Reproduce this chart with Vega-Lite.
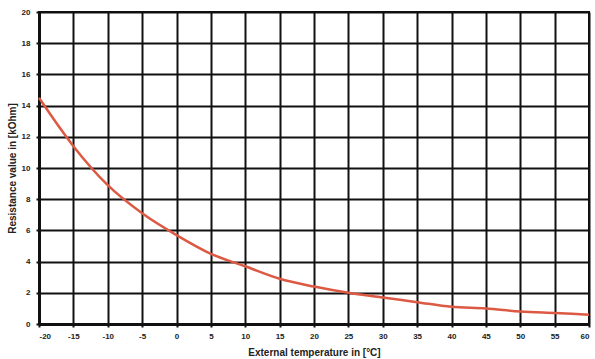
{
  "$schema": "https://vega.github.io/schema/vega-lite/v6.json",
  "autosize": "none",
  "width": 550,
  "height": 312,
  "padding": {"left": 39, "top": 12, "right": 6, "bottom": 35},
  "background": "white",
  "config": {
    "view": {"stroke": "#111", "strokeWidth": 2},
    "axis": {
      "labelFont": "Liberation Sans",
      "labelFontWeight": "bold",
      "labelFontSize": 8,
      "labelColor": "#222",
      "titleFont": "Liberation Sans",
      "titleFontWeight": "bold",
      "titleFontSize": 10,
      "titleColor": "#222",
      "gridColor": "#111",
      "gridWidth": 2,
      "gridOpacity": 1,
      "domainColor": "#111",
      "domainWidth": 3,
      "tickColor": "#111",
      "tickWidth": 2,
      "tickSize": 3
    }
  },
  "data": {
    "values": [
      {"t": -20, "r": 14.5},
      {"t": -15, "r": 11.4},
      {"t": -10, "r": 8.9},
      {"t": -5, "r": 7.1},
      {"t": 0, "r": 5.7},
      {"t": 5, "r": 4.5},
      {"t": 10, "r": 3.7},
      {"t": 15, "r": 2.9},
      {"t": 20, "r": 2.4},
      {"t": 25, "r": 2.0},
      {"t": 30, "r": 1.7},
      {"t": 35, "r": 1.4},
      {"t": 40, "r": 1.1},
      {"t": 45, "r": 1.0},
      {"t": 50, "r": 0.8},
      {"t": 55, "r": 0.7},
      {"t": 60, "r": 0.6}
    ]
  },
  "mark": {"type": "line", "color": "#dc5a44", "strokeWidth": 2.5, "interpolate": "monotone"},
  "encoding": {
    "x": {
      "field": "t", "type": "quantitative",
      "scale": {"domain": [-20, 60], "nice": false, "zero": false},
      "axis": {"values": [-20,-15,-10,-5,0,5,10,15,20,25,30,35,40,45,50,55,60], "labelExpr": "'' + datum.value", "title": "External temperature in [°C]", "titlePadding": 7, "labelPadding": 5}
    },
    "y": {
      "field": "r", "type": "quantitative",
      "scale": {"domain": [0, 20], "nice": false},
      "axis": {"values": [0,2,4,6,8,10,12,14,16,18,20], "title": "Resistance value in [kOhm]", "titlePadding": 4, "labelPadding": 6}
    }
  }
}
